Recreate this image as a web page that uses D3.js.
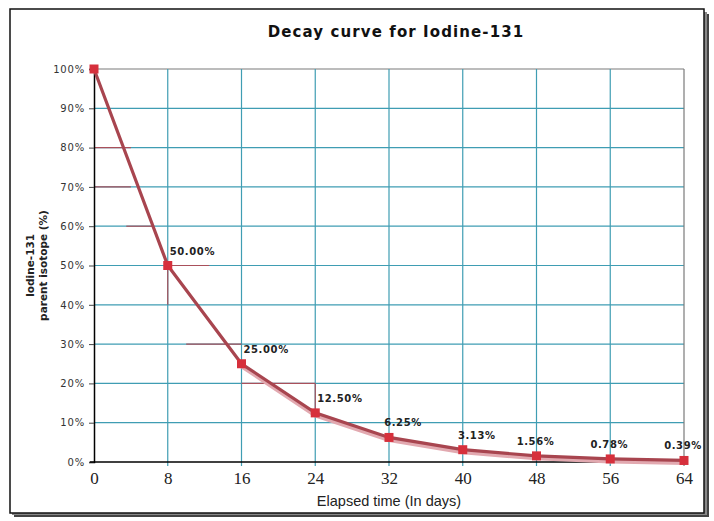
<!DOCTYPE html>
<html>
<head>
<meta charset="utf-8">
<script src="https://cdn.jsdelivr.net/npm/d3@7"></script>
<style>
  html, body { margin: 0; padding: 0; background: #fff; }
  svg { display: block; }
</style>
</head>
<body>
<svg id="chart" width="714" height="521"></svg>
<script>
// data
const days = [0, 8, 16, 24, 32, 40, 48, 56, 64];
const percentLeft = [100, 50, 25, 12.5, 6.25, 3.13, 1.56, 0.78, 0.39];
const pointLabels = ["", "50.00%", "25.00%", "12.50%", "6.25%", "3.13%", "1.56%", "0.78%", "0.39%"];
const xTicks = [0, 8, 16, 24, 32, 40, 48, 56, 64];
const yTicks = [0, 10, 20, 30, 40, 50, 60, 70, 80, 90, 100];
// leftover half-life guide strokes [x1, y1, x2, y2] in data units
const guides = [
  [0, 80, 4, 80], [0, 70, 4, 70], [3.5, 60, 6.5, 60],
  [8, 50, 12.5, 50], [8, 50, 8, 40], [10, 30, 16, 30],
  [16, 20, 24, 20], [24, 20, 24, 12.5]
];

const svg = d3.select("#chart");

const x = d3.scaleLinear().domain([0, 64]).range([94, 684]);
const y = d3.scaleLinear().domain([0, 100]).range([462, 69]);

// frame with drop shadow
svg.append("rect")
  .attr("x", 14).attr("y", 14).attr("width", 695).attr("height", 503)
  .attr("fill", "#444");
svg.append("rect")
  .attr("x", 12).attr("y", 12).attr("width", 695).attr("height", 503)
  .attr("fill", "#888");
svg.append("rect")
  .attr("x", 10).attr("y", 9).attr("width", 694).attr("height", 504)
  .attr("fill", "#fff").attr("stroke", "#111").attr("stroke-width", 1.5);

// title
svg.append("text")
  .attr("x", 396).attr("y", 37)
  .attr("text-anchor", "middle")
  .style("font-family", "DejaVu Sans")
  .style("font-weight", "bold")
  .style("font-size", "15px")
  .style("letter-spacing", "1.1px")
  .attr("fill", "#111")
  .text("Decay curve for Iodine-131");

// grid
const grid = svg.append("g");
grid.selectAll("line.h").data(yTicks.filter(d => d > 0)).enter().append("line")
  .attr("x1", x(0)).attr("x2", x(64))
  .attr("y1", d => y(d)).attr("y2", d => y(d))
  .attr("stroke", d => d === 100 ? "#7a7a7a" : "#3f9db3")
  .attr("stroke-width", 1.2);
grid.selectAll("line.v").data(xTicks.filter(d => d > 0)).enter().append("line")
  .attr("x1", d => x(d)).attr("x2", d => x(d))
  .attr("y1", y(100)).attr("y2", y(0) + 4)
  .attr("stroke", d => d === 64 ? "#7a7a7a" : "#3f9db3")
  .attr("stroke-width", 1.2);

grid.selectAll("line.g").data(guides).enter().append("line")
  .attr("x1", d => x(d[0])).attr("y1", d => y(d[1]))
  .attr("x2", d => x(d[2])).attr("y2", d => y(d[3]))
  .attr("stroke", "#a9505b")
  .attr("stroke-width", 1.2);

// axes
const yAxis = d3.axisLeft(y).tickValues(yTicks).tickSize(5).tickFormat(d => d + "%");
const gy = svg.append("g").attr("transform", `translate(${x(0)},0)`).call(yAxis);
gy.select(".domain").attr("stroke", "#000").attr("stroke-width", 1.5);
gy.selectAll(".tick line").attr("stroke", "#444");
gy.selectAll(".tick text")
  .attr("x", -9)
  .style("font-family", "DejaVu Sans")
  .style("font-size", "10px")
  .style("letter-spacing", "0.8px")
  .attr("fill", "#333");

const xAxis = d3.axisBottom(x).tickValues(xTicks).tickSize(0).tickPadding(0);
const gx = svg.append("g").attr("transform", `translate(0,${y(0)})`).call(xAxis);
gx.select(".domain").attr("stroke", "#000").attr("stroke-width", 1.5)
  .attr("d", `M${x(0) - 4},0H${x(64)}`);
gx.selectAll(".tick text")
  .attr("y", 22).attr("dy", 0)
  .style("font-family", "Liberation Serif")
  .style("font-size", "17px")
  .attr("fill", "#222");

// axis titles
svg.append("text")
  .attr("x", 389).attr("y", 506)
  .attr("text-anchor", "middle")
  .style("font-family", "Liberation Sans")
  .style("font-size", "14.5px")
  .attr("fill", "#222")
  .text("Elapsed time (In days)");

const yTitle = svg.append("text")
  .attr("transform", `translate(34,${y(50)}) rotate(-90)`)
  .attr("text-anchor", "middle")
  .style("font-family", "DejaVu Sans")
  .style("font-weight", "bold")
  .style("font-size", "10.5px")
  .attr("fill", "#222");
yTitle.append("tspan").attr("x", 0).attr("dy", 0).text("Iodine-131");
yTitle.append("tspan").attr("x", 0).attr("dy", 13).text("parent isotope (%)");

// decay line
const points = days.map((d, i) => ({ day: d, pct: percentLeft[i], label: pointLabels[i] }));
const line = d3.line().x(d => x(d.day)).y(d => y(d.pct));

svg.append("path")
  .datum(points.slice(2))
  .attr("d", line)
  .attr("transform", "translate(0,2.5)")
  .attr("fill", "none")
  .attr("stroke", "#e2a9b0")
  .attr("stroke-width", 4);

svg.append("path")
  .datum(points)
  .attr("d", line)
  .attr("fill", "none")
  .attr("stroke", "#a8454f")
  .attr("stroke-width", 3.2);

svg.append("g").selectAll("rect").data(points).enter().append("rect")
  .attr("x", d => x(d.day) - 4.5)
  .attr("y", d => y(d.pct) - 4.5)
  .attr("width", 9).attr("height", 9)
  .attr("fill", "#d6303c");

// point labels: early ones sit to the right, later ones centred
svg.append("g").selectAll("text").data(points.filter(d => d.label)).enter().append("text")
  .attr("x", (d, i) => x(d.day) + (i < 3 ? 2 : i < 5 ? 14 : -1))
  .attr("y", d => y(d.pct) - 11)
  .attr("text-anchor", (d, i) => i < 3 ? "start" : "middle")
  .style("font-family", "DejaVu Sans")
  .style("font-weight", "bold")
  .style("font-size", "10px")
  .style("letter-spacing", "0.6px")
  .attr("fill", "#222")
  .text(d => d.label);
</script>
</body>
</html>
